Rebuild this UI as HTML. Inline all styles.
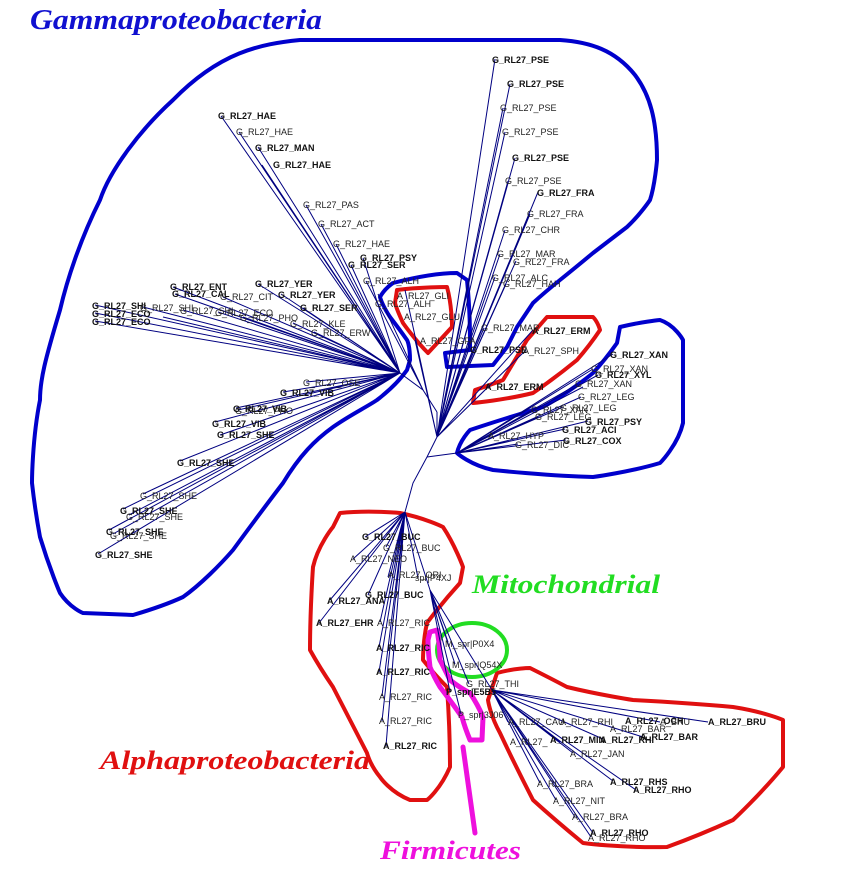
<!DOCTYPE html>
<html><head><meta charset="utf-8"><style>
html,body{margin:0;padding:0;background:#fff;width:843px;height:876px;overflow:hidden}
svg{display:block}
.t{font-family:"Liberation Sans",Arial,sans-serif;font-size:9px;fill:#222}
.b{font-weight:bold;fill:#111}
.h{font-family:"Liberation Serif",serif;font-style:italic;font-weight:bold}
</style></head><body>
<svg width="843" height="876" viewBox="0 0 843 876" xmlns="http://www.w3.org/2000/svg">
<text class="h" x="30" y="29" font-size="28" fill="#1010d0" textLength="292" lengthAdjust="spacingAndGlyphs">Gammaproteobacteria</text>
<text class="h" x="472" y="593" font-size="26" fill="#22dd22" textLength="188" lengthAdjust="spacingAndGlyphs">Mitochondrial</text>
<text class="h" x="100" y="769" font-size="26" fill="#e01010" textLength="270" lengthAdjust="spacingAndGlyphs">Alphaproteobacteria</text>
<text class="h" x="380" y="859" font-size="26" fill="#ee10dd" textLength="141" lengthAdjust="spacingAndGlyphs">Firmicutes</text>

<g fill="none" stroke="#0000cc" stroke-width="4" stroke-linejoin="round">
<path d="M530,40 L300,40 C260,44 220,52 173,100 C140,130 110,170 100,200 C80,240 67,280 60,310 C45,360 40,380 40,400 C32,440 32,483 32,483 C35,510 40,537 40,537 C50,570 60,593 60,593 C70,608 83,613 83,613 L133,615 C150,610 170,603 183,597 C200,585 220,565 233,550 C255,520 270,500 283,483 C300,455 315,440 333,427 C350,415 365,408 377,400 C390,390 400,380 407,370 L410,360 C410,345 407,340 407,340 C400,330 390,317 390,317 C382,305 380,297 380,297 C385,288 393,283 393,283 C420,276 440,273 457,273 L467,280 C470,310 470,330 470,350 L445,353 L447,367 L493,365 C500,356 507,347 507,347 C512,337 517,327 517,327 C525,315 533,303 533,303 C545,292 560,280 560,280 C575,268 593,253 593,253 C610,240 627,227 627,227 C640,215 650,200 650,200 C655,185 657,160 657,160 C657,120 650,95 635,75 C615,50 590,42 560,40 Z"/>
<path d="M620,327 C640,322 660,320 660,320 C675,325 683,340 683,340 L683,423 C678,445 660,463 660,463 C630,472 593,477 593,477 C550,476 493,470 493,470 C470,465 457,453 457,453 C460,440 470,430 470,430 C500,420 543,407 543,407 C570,392 593,373 593,373 C605,360 617,343 617,343 Z"/>
</g>
<g fill="none" stroke="#e01010" stroke-width="4" stroke-linejoin="round">
<path d="M397,290 C420,287 447,287 447,287 C452,305 452,327 452,327 C440,340 428,353 428,353 C415,340 403,323 403,323 C397,310 395,303 395,303 Z"/>
<path d="M547,317 L593,317 C598,322 600,330 600,330 C590,345 577,360 577,360 C555,378 533,393 533,393 C505,400 473,403 473,403 L475,390 C490,385 503,380 503,380 C515,360 527,340 527,340 Z"/>
<path d="M340,513 C370,510 400,513 400,513 C425,518 443,527 443,527 C455,545 463,567 463,567 L460,583 C440,605 427,623 427,623 C423,640 423,660 423,660 C435,675 447,687 447,687 C450,730 450,767 450,767 C440,790 427,800 427,800 L410,800 C390,792 380,777 380,777 C370,765 367,753 367,753 C350,720 333,687 333,687 C320,668 310,650 310,650 C310,610 313,567 313,567 C318,545 333,527 333,527 Z"/>
<path d="M497,673 C515,668 530,668 530,668 C550,678 567,687 567,687 C600,695 633,700 633,700 C690,703 733,707 733,707 C765,712 783,720 783,720 L783,767 C760,795 733,820 733,820 C700,835 667,847 667,847 C620,848 583,843 583,843 C555,820 533,800 533,800 C515,765 500,733 500,733 C490,715 488,700 488,700 Z"/>
</g>
<ellipse cx="472" cy="650" rx="35" ry="27" fill="none" stroke="#22dd22" stroke-width="4"/>
<g fill="none" stroke="#ee10dd" stroke-width="5" stroke-linejoin="round" stroke-linecap="round">
<path d="M430,632 L437,630 C440,645 440,660 440,660 C445,670 450,680 450,680 C460,688 470,693 470,693 C478,705 483,717 483,717 L482,740 L470,740 C465,728 462,717 462,717 C450,700 440,687 440,687 C434,677 430,667 430,667 C428,650 428,640 428,640 Z"/>
<path d="M463,747 L475,833"/>
</g>

<g stroke="#000080" stroke-width="1" fill="none">
<path d="M437,412 L437,437 L427,457 L413,483 L405,512"/>
<path d="M437,412 L423,390 L400,373"/>
<path d="M400,373 L221,116 M400,373 L239,132 M400,373 L258,147 M400,373 L262,165 M400,373 L306,205 M400,373 L321,224 M400,373 L336,244 M400,373 L363,258 M400,373 L351,265"/>
<path d="M400,373 L173,287 M400,373 L175,294 M400,373 L223,297 M400,373 L258,284 M400,373 L281,294 M400,373 L303,308 M400,373 L293,323 M400,373 L314,332"/>
<path d="M400,373 L95,305 M400,373 L95,313 M400,373 L95,321 M400,373 L143,307 M400,373 L183,310 M400,373 L218,312 M400,373 L243,317 M400,373 L163,317"/>
<path d="M400,373 L306,382 M400,373 L283,392 M400,373 L238,410 M400,373 L236,408 M400,373 L215,422 M400,373 L220,435 M400,373 L180,461 M400,373 L143,494 M400,373 L123,509 M400,373 L129,515 M400,373 L109,530 M400,373 L113,534 M400,373 L98,554"/>
<path d="M423,390 L366,281 M423,390 L378,294 M437,437 L405,290 M437,437 L415,340"/>
<path d="M437,437 L495,59 M437,437 L510,84 M437,437 L503,108 M437,437 L505,132 M437,437 L515,158 M437,437 L508,181 M437,437 L538,192 M437,437 L530,214 M437,437 L505,230 M437,437 L500,254 M437,437 L516,261 M437,437 L495,277 M437,437 L506,284 M437,437 L484,328 M437,437 L473,350 M437,437 L526,350 M437,437 L533,330 M437,437 L488,387"/>
<path d="M427,457 L457,453 M457,453 L613,354 M457,453 L593,369 M457,453 L598,375 M457,453 L578,384 M457,453 L583,387 M457,453 L581,397 M457,453 L563,407 M457,453 L534,409 M457,453 L538,417 M457,453 L588,421 M457,453 L565,429 M457,453 L491,435 M457,453 L566,440 M457,453 L518,444"/>
<path d="M405,512 L365,537 M405,512 L386,547 M405,512 L353,559 M405,512 L388,577 M405,512 L418,578 M405,512 L368,595 M405,512 L330,600 M405,512 L319,623 M405,512 L380,622 M405,512 L379,647 M405,512 L379,672 M405,512 L382,696 M405,512 L382,721 M405,512 L386,746"/>
<path d="M405,512 L430,590 L448,642 M430,590 L455,664 M430,590 L469,684 M430,590 L450,692 M430,590 L461,714"/>
<path d="M430,590 L492,690 M492,690 L508,722 M492,690 L708,722 M492,690 L643,737 M492,690 L603,739 M492,690 L573,753 M492,690 L540,783 M492,690 L613,781 M492,690 L636,790 M492,690 L556,800 M492,690 L575,817 M492,690 L593,833 M492,690 L591,837 M492,690 L660,722 M492,690 L560,742"/>
</g>

<g class="t">
<text x="218" y="119" class="b">G_RL27_HAE</text>
<text x="236" y="135">G_RL27_HAE</text>
<text x="255" y="151" class="b">G_RL27_MAN</text>
<text x="273" y="168" class="b">G_RL27_HAE</text>
<text x="303" y="208">G_RL27_PAS</text>
<text x="318" y="227">G_RL27_ACT</text>
<text x="333" y="247">G_RL27_HAE</text>
<text x="360" y="261" class="b">G_RL27_PSY</text>
<text x="348" y="268" class="b">G_RL27_SER</text>
<text x="363" y="284">G_RL27_ALH</text>
<text x="170" y="290" class="b">G_RL27_ENT</text>
<text x="172" y="297" class="b">G_RL27_CAL</text>
<text x="220" y="300">G_RL27_CIT</text>
<text x="255" y="287" class="b">G_RL27_YER</text>
<text x="278" y="298" class="b">G_RL27_YER</text>
<text x="300" y="311" class="b">G_RL27_SER</text>
<text x="290" y="327">G_RL27_KLE</text>
<text x="311" y="336">G_RL27_ERW</text>
<text x="92" y="309" class="b">G_RL27_SHI</text>
<text x="92" y="317" class="b">G_RL27_ECO</text>
<text x="92" y="325" class="b">G_RL27_ECO</text>
<text x="140" y="311">G_RL27_SHI</text>
<text x="180" y="314">G_RL27_SHI</text>
<text x="215" y="316">G_RL27_ECO</text>
<text x="240" y="321">G_RL27_PHO</text>
<text x="303" y="386">G_RL27_OSE</text>
<text x="280" y="396" class="b">G_RL27_VIB</text>
<text x="235" y="414">G_RL27_PHO</text>
<text x="233" y="412" class="b">G_RL27_VIB</text>
<text x="212" y="427" class="b">G_RL27_VIB</text>
<text x="217" y="438" class="b">G_RL27_SHE</text>
<text x="177" y="466" class="b">G_RL27_SHE</text>
<text x="140" y="499">G_RL27_SHE</text>
<text x="120" y="514" class="b">G_RL27_SHE</text>
<text x="126" y="520">G_RL27_SHE</text>
<text x="106" y="535" class="b">G_RL27_SHE</text>
<text x="110" y="539">G_RL27_SHE</text>
<text x="95" y="558" class="b">G_RL27_SHE</text>

<text x="492" y="63" class="b">G_RL27_PSE</text>
<text x="507" y="87" class="b">G_RL27_PSE</text>
<text x="500" y="111">G_RL27_PSE</text>
<text x="502" y="135">G_RL27_PSE</text>
<text x="512" y="161" class="b">G_RL27_PSE</text>
<text x="505" y="184">G_RL27_PSE</text>
<text x="537" y="196" class="b">G_RL27_FRA</text>
<text x="527" y="217">G_RL27_FRA</text>
<text x="502" y="233">G_RL27_CHR</text>
<text x="497" y="257">G_RL27_MAR</text>
<text x="513" y="265">G_RL27_FRA</text>
<text x="492" y="281">G_RL27_ALC</text>
<text x="503" y="287">G_RL27_HAH</text>
<text x="481" y="331">G_RL27_MAR</text>
<text x="470" y="353" class="b">G_RL27_PSE</text>
<text x="523" y="354">A_RL27_SPH</text>
<text x="532" y="334" class="b">A_RL27_ERM</text>
<text x="485" y="390" class="b">A_RL27_ERM</text>
<text x="397" y="299">A_RL27_GLI</text>
<text x="375" y="307">G_RL27_ALH</text>
<text x="404" y="320">A_RL27_GLU</text>
<text x="420" y="344">A_RL27_GFA</text>

<text x="610" y="358" class="b">G_RL27_XAN</text>
<text x="591" y="372">G_RL27_XAN</text>
<text x="595" y="378" class="b">G_RL27_XYL</text>
<text x="575" y="387">G_RL27_XAN</text>
<text x="578" y="400">G_RL27_LEG</text>
<text x="560" y="411">G_RL27_LEG</text>
<text x="531" y="413">G_RL27_XAN</text>
<text x="535" y="420">G_RL27_LEG</text>
<text x="585" y="425" class="b">G_RL27_PSY</text>
<text x="562" y="433" class="b">G_RL27_ACI</text>
<text x="488" y="439">A_RL27_HYP</text>
<text x="563" y="444" class="b">G_RL27_COX</text>
<text x="515" y="448">G_RL27_DIC</text>

<text x="362" y="540" class="b">G_RL27_BUC</text>
<text x="383" y="551">G_RL27_BUC</text>
<text x="350" y="562">A_RL27_NEO</text>
<text x="388" y="578">A_RL27_ORI</text>
<text x="415" y="581">spr|P4XJ</text>
<text x="365" y="598" class="b">G_RL27_BUC</text>
<text x="327" y="604" class="b">A_RL27_ANA</text>
<text x="316" y="626" class="b">A_RL27_EHR</text>
<text x="377" y="626">A_RL27_RIC</text>
<text x="376" y="651" class="b">A_RL27_RIC</text>
<text x="376" y="675" class="b">A_RL27_RIC</text>
<text x="379" y="700">A_RL27_RIC</text>
<text x="379" y="724">A_RL27_RIC</text>
<text x="383" y="749" class="b">A_RL27_RIC</text>
<text x="445" y="647">M_spr|P0X4</text>
<text x="452" y="668">M_spr|Q54X</text>
<text x="466" y="687">G_RL27_THI</text>
<text x="446" y="695" class="b">P_spr|E5B5</text>
<text x="458" y="718">P_spr|3J06</text>

<text x="508" y="725">A_RL27_CAU</text>
<text x="560" y="725">A_RL27_RHI</text>
<text x="625" y="724" class="b">A_RL27_OCH</text>
<text x="660" y="725">A_BRU</text>
<text x="708" y="725" class="b">A_RL27_BRU</text>
<text x="610" y="732">A_RL27_BAR</text>
<text x="640" y="740" class="b">A_RL27_BAR</text>
<text x="510" y="745">A_RL27_</text>
<text x="550" y="743" class="b">A_RL27_MIN</text>
<text x="600" y="743" class="b">A_RL27_RHI</text>
<text x="570" y="757">A_RL27_JAN</text>
<text x="537" y="787">A_RL27_BRA</text>
<text x="610" y="785" class="b">A_RL27_RHS</text>
<text x="633" y="793" class="b">A_RL27_RHO</text>
<text x="553" y="804">A_RL27_NIT</text>
<text x="572" y="820">A_RL27_BRA</text>
<text x="590" y="836" class="b">A_RL27_RHO</text>
<text x="588" y="841">A_RL27_RHO</text>
</g>
</svg>
</body></html>
